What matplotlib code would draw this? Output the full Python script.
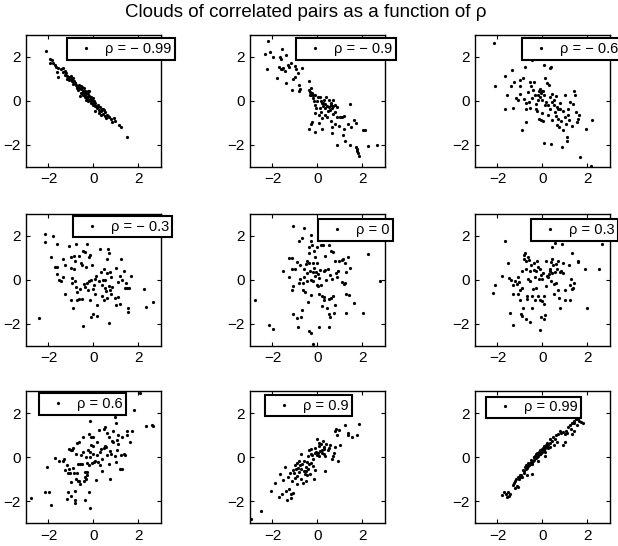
import numpy as np
import matplotlib
matplotlib.use("Agg")
import matplotlib.pyplot as plt

plt.rcParams['font.family'] = ['Liberation Sans', 'DejaVu Sans']

# correlation coefficient of each cloud, row by row
rhos = [-0.99, -0.9, -0.6, -0.3, 0, 0.3, 0.6, 0.9, 0.99]
labels = ['\u03c1 = \u2212 0.99', '\u03c1 = \u2212 0.9', '\u03c1 = \u2212 0.6',
          '\u03c1 = \u2212 0.3', '\u03c1 = 0', '\u03c1 = 0.3',
          '\u03c1 = 0.6', '\u03c1 = 0.9', '\u03c1 = 0.99']

# (x, y) samples of each cloud
pairs_m099 = [
    (-2.11, 2.24), (-1.92, 1.91), (-1.86, 1.83), (-1.93, 1.70), (-1.81, 1.73), (-1.73, 1.61),
    (-1.67, 1.53), (-1.59, 1.48), (-1.61, 1.29), (-1.56, 1.09), (-1.46, 1.42), (-1.34, 1.48),
    (-1.37, 1.30), (-1.28, 1.18), (-1.22, 1.24), (-1.16, 1.12), (-1.13, 1.03), (-1.25, 1.36),
    (-1.07, 1.06), (-1.01, 0.97), (-0.93, 1.03), (-0.96, 0.88), (-0.87, 0.91), (-0.84, 0.79),
    (-0.78, 0.73), (-0.72, 0.64), (-0.66, 0.73), (-0.63, 0.58), (-0.70, 0.50), (-0.60, 0.20),
    (-0.57, 0.52), (-0.51, 0.61), (-0.48, 0.42), (-0.45, 0.33), (-0.39, 0.45), (-0.36, 0.27),
    (-0.33, 0.36), (-0.30, 0.18), (-0.27, 0.12), (-0.24, 0.30), (-0.21, 0.03), (-0.19, 0.21),
    (-0.16, 0.09), (-0.13, -0.03), (-0.10, 0.15), (-0.07, 0.03), (-0.04, -0.09), (-0.01, -0.18),
    (0.02, 0.00), (0.05, -0.24), (0.08, -0.12), (0.11, -0.24), (0.14, -0.33), (0.20, -0.18),
    (0.23, -0.42), (0.26, -0.58), (0.29, -0.30), (0.35, -0.48), (0.38, -0.36), (0.41, -0.61),
    (0.47, -0.42), (0.50, -0.70), (0.53, -0.52), (0.56, -0.79), (0.59, -0.64), (0.64, -0.70),
    (0.70, -0.76), (0.79, -0.82), (0.82, -0.97), (0.91, -0.79), (0.97, -0.91), (1.15, -1.09),
    (1.21, -1.18), (1.49, -1.64), (-0.48, 0.27), (-0.42, 0.58), (-0.24, 0.42), (-0.10, -0.12),
    (-0.04, 0.12), (-0.24, -0.03), (-0.33, 0.03), (-0.39, 0.18), (-0.54, 0.33), (-0.57, 0.67),
    (-0.75, 0.58), (-0.81, 0.82), (-0.90, 0.76), (-0.99, 1.12), (-1.10, 0.94), (-1.19, 1.00),
    (0.08, -0.45), (0.17, -0.30), (0.41, -0.36), (0.32, -0.64), (-0.19, 0.45), (-0.36, 0.33),
]

pairs_m09 = [
    (-2.19, 2.70), (-2.35, 2.14), (-2.11, 2.21), (-1.96, 1.97), (-2.26, 1.44), (-1.58, 2.36),
    (-1.67, 1.97), (-1.62, 1.91), (-1.40, 2.06), (-1.81, 1.03), (-1.70, 1.52), (-1.64, 1.42),
    (-1.52, 1.48), (-1.46, 1.36), (-1.58, 1.45), (-1.31, 1.61), (-1.25, 1.52), (-1.19, 1.70),
    (-1.00, 1.56), (-0.96, 1.42), (-0.69, 1.50), (-0.87, 1.24), (-0.99, 1.09), (-1.10, 0.97),
    (-1.40, 0.80), (-1.13, 0.48), (-0.81, 0.73), (-0.78, 0.55), (-0.84, 0.42), (-0.39, 0.88),
    (-0.36, 0.48), (-0.33, 0.39), (-0.30, 0.58), (-0.24, 0.33), (-0.27, 0.27), (-0.21, 0.12),
    (-0.19, 0.24), (-0.16, 0.00), (-0.10, -0.21), (-0.04, -0.03), (-0.07, -0.33), (-0.13, -0.55),
    (0.02, 0.15), (0.11, 0.18), (0.14, 0.00), (0.20, -0.12), (0.23, -0.24), (0.26, -0.09),
    (0.29, 0.03), (0.32, -0.15), (0.35, -0.33), (0.38, 0.15), (0.41, -0.24), (0.47, -0.45),
    (0.50, 0.03), (0.53, -0.30), (0.56, -0.42), (0.59, -0.09), (0.61, -0.21), (0.64, -0.33),
    (0.67, 0.03), (0.70, -0.24), (0.76, -0.52), (0.79, -0.18), (0.85, -0.30), (0.88, -0.76),
    (1.00, -0.73), (1.09, -0.76), (1.18, -0.70), (1.44, -0.15), (0.44, -0.73), (0.35, -0.64),
    (0.17, -0.52), (0.08, -0.64), (0.05, -1.03), (-0.24, -0.97), (-0.27, -1.06), (-0.39, -1.27),
    (-0.10, -1.42), (0.20, -1.27), (0.59, -0.94), (0.64, -1.21), (0.64, -1.48), (0.76, -1.06),
    (0.97, -1.15), (1.18, -1.27), (1.36, -1.06), (1.62, -0.88), (1.71, -1.00), (1.50, -1.21),
    (2.01, -1.33), (2.13, -1.33), (1.15, -1.55), (1.21, -1.82), (0.88, -2.00), (1.44, -2.00),
    (1.71, -2.12), (1.74, -2.21), (1.77, -2.30), (1.80, -2.39), (1.83, -2.52), (2.24, -2.05),
    (2.66, -2.00), (0.70, -0.61), (-0.10, 0.27), (-0.33, 0.27), (0.19, -0.79), (0.11, -0.33),
]

pairs_m06 = [
    (-2.14, 2.62), (-2.09, 0.68), (-1.67, 1.13), (-1.35, 1.41), (-1.58, 0.27), (-1.66, -0.37),
    (-1.40, 0.68), (-1.32, -0.31), (-1.26, 0.87), (-1.17, 0.10), (-1.08, 0.04), (-0.99, 0.92),
    (-0.99, 0.65), (-1.02, 0.31), (-0.87, 1.04), (-0.78, 1.53), (-0.81, 0.07), (-0.75, -0.39),
    (-0.72, -0.96), (-0.90, -1.33), (-0.66, 0.40), (-0.60, -0.08), (-0.54, 0.86), (-0.48, 1.83),
    (-0.51, 0.65), (-0.48, 0.10), (-0.42, 0.49), (-0.36, 0.83), (-0.34, 0.28), (-0.28, -0.14),
    (-0.25, -0.45), (-0.22, 0.01), (-0.19, 0.28), (-0.16, 0.46), (-0.13, 0.19), (-0.10, 0.52),
    (-0.07, 0.34), (-0.04, 0.46), (-0.01, 0.04), (0.02, 0.43), (0.05, 0.25), (0.08, 1.62),
    (0.11, -0.21), (-0.16, -0.81), (-0.07, -0.87), (0.02, -0.94), (0.08, -1.91), (0.37, -1.97),
    (0.20, 0.80), (0.29, 0.69), (0.32, 1.50), (0.38, 1.53), (0.17, -0.08), (0.23, -0.21),
    (0.32, 0.19), (0.35, -0.39), (0.41, -0.08), (0.44, 0.31), (0.50, -0.21), (0.53, 0.04),
    (0.56, -0.51), (0.59, -0.69), (0.62, 0.22), (0.65, -0.30), (0.68, -0.81), (0.71, -0.36),
    (0.74, -1.18), (0.77, -0.11), (0.83, -0.94), (0.86, -2.09), (0.89, -0.45), (0.92, -1.33),
    (0.98, -0.72), (1.01, 0.28), (1.04, -1.06), (1.07, -1.63), (1.10, -1.81), (1.12, -0.39),
    (1.15, -0.63), (1.18, -0.87), (1.24, -0.05), (1.30, -1.15), (1.36, -0.17), (1.39, 0.46),
    (1.45, 0.28), (1.48, -0.51), (1.54, -0.96), (1.60, -0.81), (1.63, -0.66), (1.66, -2.55),
    (1.93, -1.27), (2.19, -0.87), (2.14, -2.95), (0.80, -0.39), (0.65, -1.12), (0.44, -0.87),
    (0.26, -0.66), (-0.04, -0.54), (-0.31, -0.36), (-0.57, -0.33), (-0.75, -0.11), (0.11, 1.01),
]

pairs_m03 = [
    (-2.14, 2.07), (-2.14, 1.71), (-1.81, 1.98), (-1.63, 1.62), (-2.41, -1.74), (-1.90, 1.02),
    (-1.69, 0.56), (-1.60, 0.59), (-1.63, 0.26), (-1.55, -0.01), (-1.46, -0.07), (-1.37, 0.14),
    (-1.34, 0.92), (-1.25, 0.68), (-1.25, -0.67), (-1.07, 1.53), (-1.01, 1.02), (-0.98, 0.53),
    (-0.95, 0.08), (-0.95, -0.16), (-0.98, -0.94), (-0.92, -1.27), (-0.86, 1.08), (-0.86, 0.47),
    (-0.80, 0.83), (-0.80, -0.07), (-0.77, 1.62), (-0.77, -0.34), (-0.74, -0.94), (-0.71, -0.58),
    (-0.65, -0.88), (-0.62, 1.08), (-0.59, -0.43), (-0.56, 0.77), (-0.53, -0.88), (-0.51, 0.68),
    (-0.48, 1.29), (-0.48, -2.11), (-0.42, -0.19), (-0.39, 1.26), (-0.36, -0.34), (-0.33, 0.59),
    (-0.30, 1.62), (-0.27, -0.13), (-0.24, -0.46), (-0.21, -0.07), (-0.18, 1.02), (-0.15, 1.14),
    (-0.15, -0.91), (-0.12, -0.01), (-0.09, -1.69), (-0.06, 0.68), (-0.03, -0.43), (0.00, -1.57),
    (0.03, -0.25), (0.06, 0.02), (0.09, -0.64), (0.12, 0.17), (0.15, -1.15), (0.18, -1.66),
    (0.24, -0.07), (0.30, 1.41), (0.33, 0.35), (0.36, -0.22), (0.39, -0.76), (0.42, -0.01),
    (0.45, 0.50), (0.48, -0.94), (0.51, -0.40), (0.53, -0.01), (0.56, -0.52), (0.59, 0.32),
    (0.62, 0.92), (0.62, -0.82), (0.65, 1.41), (0.68, -0.31), (0.71, 1.20), (0.71, -1.99),
    (0.74, 0.35), (0.74, -0.49), (0.77, 0.11), (0.80, -0.64), (0.83, -0.34), (0.98, -0.82),
    (1.01, 0.53), (1.01, -1.15), (1.07, -0.79), (1.10, -0.10), (1.16, 0.17), (1.19, -1.12),
    (1.22, 0.92), (1.28, -0.01), (1.34, 0.41), (1.40, -0.37), (1.46, -0.16), (1.49, -0.37),
    (1.55, -1.48), (1.55, -1.30), (1.58, -0.37), (1.69, 0.17), (2.26, -0.41), (2.35, -1.23),
    (2.64, -1.03),
]

pairs_0 = [
    (-2.76, -0.91), (-2.14, -2.07), (-1.99, -2.26), (-1.55, 0.38), (-1.28, 0.98), (-1.25, 0.14),
    (-1.13, 0.98), (-1.13, 0.47), (-1.10, -0.28), (-1.13, -0.49), (-1.10, -1.57), (-1.07, 2.43),
    (-1.01, 0.50), (-0.92, 0.80), (-0.89, -1.75), (-0.86, -2.17), (-0.83, -0.13), (-0.80, 1.77),
    (-0.77, 0.05), (-0.77, 0.68), (-0.71, -1.69), (-0.68, 1.89), (-0.68, -1.36), (-0.65, -0.13),
    (-0.65, -0.49), (-0.62, 0.47), (-0.59, 2.34), (-0.59, 0.14), (-0.56, -0.55), (-0.51, 0.71),
    (-0.48, 0.29), (-0.45, -0.07), (-0.42, -1.00), (-0.39, 1.47), (-0.39, 0.77), (-0.36, 1.23),
    (-0.36, -2.35), (-0.33, 0.41), (-0.30, -0.01), (-0.30, 2.01), (-0.30, -2.41), (-0.27, -0.70),
    (-0.27, 1.77), (-0.24, 1.59), (-0.21, 0.35), (-0.21, -2.93), (-0.18, 0.77), (-0.18, -0.04),
    (-0.15, 1.29), (-0.15, 0.53), (-0.12, 0.17), (-0.09, 1.02), (-0.06, 0.35), (-0.03, -0.22),
    (-0.03, 0.74), (0.00, 1.47), (0.03, -0.31), (0.03, 0.26), (0.09, -2.14), (0.09, 0.08),
    (0.12, 0.44), (0.15, 1.59), (0.15, -0.22), (0.18, -0.73), (0.21, -1.21), (0.24, 1.59),
    (0.27, 0.41), (0.30, -0.94), (0.33, 1.07), (0.33, 0.44), (0.36, -0.01), (0.42, -1.27),
    (0.45, 0.47), (0.51, 1.59), (0.51, -0.88), (0.53, -1.54), (0.53, -2.17), (0.56, -1.69),
    (0.56, 0.20), (0.59, 1.29), (0.62, -0.82), (0.65, 0.02), (0.71, -0.76), (0.71, 1.26),
    (0.74, -1.51), (0.77, -1.15), (0.80, 0.83), (0.83, 0.29), (0.86, 0.14), (0.92, 0.38),
    (0.95, 0.83), (1.07, 0.89), (1.10, -0.10), (1.13, 0.92), (1.16, -0.19), (1.22, -0.16),
    (1.22, 0.77), (1.25, 0.35), (1.25, -0.67), (1.28, -1.51), (1.34, 1.02), (1.40, -0.70),
    (1.46, 0.53), (1.63, -1.06), (2.02, -1.51), (2.23, 1.17), (2.79, -0.04), (-0.45, 0.83),
    (0.09, -0.64), (0.27, -0.79),
]

pairs_03 = [
    (-2.21, -0.61), (-2.12, -0.22), (-1.82, 0.17), (-1.67, 1.77), (-1.55, 0.77), (-1.47, 0.08),
    (-1.44, -1.51), (-1.38, -0.01), (-1.32, -2.08), (-1.29, -0.25), (-1.29, -0.67), (-1.23, -0.07),
    (-1.14, -0.19), (-1.11, -0.64), (-1.08, 0.11), (-1.05, -0.10), (-1.02, -0.49), (-0.99, -0.91),
    (-0.96, -1.57), (-0.93, -1.66), (-0.93, -0.37), (-0.90, 0.41), (-0.87, -1.27), (-0.84, 0.92),
    (-0.81, 1.14), (-0.78, 1.23), (-0.75, 0.83), (-0.72, 0.47), (-0.72, -1.81), (-0.69, -0.76),
    (-0.69, -0.88), (-0.66, 1.02), (-0.63, 0.05), (-0.60, 0.89), (-0.57, -0.04), (-0.54, 0.41),
    (-0.54, -1.93), (-0.51, 0.65), (-0.48, -0.73), (-0.45, -1.27), (-0.42, -0.43), (-0.39, 0.77),
    (-0.36, 0.44), (-0.34, 0.11), (-0.34, -0.94), (-0.31, -0.37), (-0.28, 0.38), (-0.25, 0.86),
    (-0.22, -0.73), (-0.19, 0.59), (-0.16, 0.02), (-0.13, -0.94), (-0.13, 0.47), (-0.10, -2.29),
    (-0.07, 0.20), (-0.07, -1.69), (-0.04, -0.97), (-0.01, 0.02), (0.02, 0.29), (0.05, -1.78),
    (0.05, -1.09), (0.08, -0.76), (0.11, -1.60), (0.14, 0.83), (0.17, -0.28), (0.20, 0.17),
    (0.26, 0.11), (0.29, 0.26), (0.32, 0.41), (0.35, 0.50), (0.38, 0.80), (0.38, -0.04),
    (0.41, 0.32), (0.41, 0.92), (0.44, 1.50), (0.47, 0.68), (0.50, -0.19), (0.53, -0.64),
    (0.56, 1.68), (0.56, 0.35), (0.59, 0.71), (0.62, -0.13), (0.65, 0.47), (0.68, 0.86),
    (0.71, -0.49), (0.74, -0.85), (0.77, 0.35), (0.80, -1.30), (0.83, 0.38), (0.86, 1.62),
    (0.89, 0.74), (0.92, 0.32), (0.98, -0.91), (1.01, -0.46), (1.18, 0.65), (1.21, -0.25),
    (1.24, -0.91), (1.27, 0.02), (1.30, -0.43), (1.33, 1.23), (1.36, -0.37), (1.39, -0.16),
    (1.57, 0.80), (1.60, 0.86), (1.87, 0.47), (1.96, -1.27), (2.50, 0.50), (2.64, 1.62),
]

pairs_06 = [
    (-2.79, -1.86), (-2.14, -1.57), (-1.96, -1.57), (-2.08, -0.43), (-1.87, -2.17), (-1.72, -0.04),
    (-1.55, -0.16), (-1.37, -0.19), (-1.31, -0.07), (-1.25, -0.58), (-1.19, -0.37), (-1.13, -1.57),
    (-1.13, -0.70), (-1.16, -1.90), (-1.10, 0.37), (-1.07, -0.52), (-1.04, -0.70), (-1.01, -1.12),
    (-1.01, 0.31), (-0.98, -1.78), (-0.95, 0.34), (-0.92, -0.49), (-0.89, 0.40), (-0.86, -0.70),
    (-0.83, -2.08), (-0.80, -1.51), (-0.80, -1.96), (-0.77, 0.13), (-0.77, -0.97), (-0.74, -0.70),
    (-0.71, 0.64), (-0.68, -0.31), (-0.68, -1.09), (-0.65, 0.70), (-0.62, -1.06), (-0.59, -0.31),
    (-0.59, -1.21), (-0.56, 0.10), (-0.53, -0.31), (-0.48, 0.94), (-0.45, 0.22), (-0.42, -1.06),
    (-0.39, -0.67), (-0.39, -1.93), (-0.36, -0.91), (-0.33, -0.01), (-0.33, -1.00), (-0.30, -0.82),
    (-0.30, -0.28), (-0.27, -0.67), (-0.24, 0.34), (-0.21, -0.37), (-0.18, 1.06), (-0.18, -1.60),
    (-0.15, 1.66), (-0.15, -2.32), (-0.15, -0.01), (-0.12, 0.91), (-0.09, 0.58), (-0.06, -0.28),
    (-0.03, 0.16), (-0.03, 0.91), (0.00, 0.52), (0.03, -0.22), (0.09, -0.16), (0.12, -1.03),
    (0.15, 0.70), (0.18, 0.10), (0.21, -0.22), (0.24, 1.24), (0.27, -0.34), (0.30, 0.25),
    (0.33, 0.37), (0.36, -0.10), (0.39, -0.64), (0.45, 1.27), (0.48, 0.40), (0.51, 0.52),
    (0.53, 1.39), (0.56, 0.46), (0.59, 1.12), (0.62, 0.10), (0.68, -0.31), (0.71, 0.91),
    (0.74, 0.28), (0.74, -1.00), (0.77, 0.16), (0.83, 0.73), (0.86, 1.18), (0.89, 0.70),
    (0.95, 1.84), (0.98, 0.04), (1.01, -0.22), (1.01, 1.57), (1.04, 0.34), (1.04, 0.79),
    (1.07, 0.61), (1.10, 1.00), (1.19, -0.52), (1.22, 0.10), (1.25, -0.52), (1.28, 0.91),
    (1.34, 0.16), (1.40, 0.10), (1.49, 1.18), (1.49, 1.03), (1.63, 0.70), (1.72, 1.18),
    (1.81, 2.17), (2.05, 2.92), (2.32, 1.42), (2.59, 1.48), (2.64, 1.42), (-0.15, 0.25),
]

pairs_09 = [
    (-2.94, -2.80), (-2.53, -2.44), (-2.05, -1.54), (-1.90, -1.18), (-1.72, -1.81), (-1.66, -0.76),
    (-1.58, -1.66), (-1.52, -1.03), (-1.43, -0.46), (-1.40, -1.54), (-1.37, -1.96), (-1.31, -0.88),
    (-1.25, -1.45), (-1.22, -0.70), (-1.19, -1.84), (-1.16, -1.69), (-1.13, -1.09), (-1.10, -0.58),
    (-1.07, -1.63), (-1.04, -0.73), (-1.01, -0.34), (-0.98, -0.94), (-0.95, -0.55), (-0.92, -0.25),
    (-0.89, -0.85), (-0.89, -1.21), (-0.86, -0.49), (-0.83, -0.19), (-0.80, -0.67), (-0.77, -0.37),
    (-0.74, 0.16), (-0.74, -0.97), (-0.71, -0.55), (-0.68, -0.31), (-0.65, -1.15), (-0.62, -0.64),
    (-0.59, -0.16), (-0.56, -0.76), (-0.53, -0.43), (-0.51, -1.06), (-0.51, -0.61), (-0.48, -0.22),
    (-0.45, -0.82), (-0.42, 0.04), (-0.42, -0.55), (-0.39, -0.31), (-0.36, 0.31), (-0.33, -0.76),
    (-0.30, 0.16), (-0.30, -0.25), (-0.27, 0.37), (-0.24, 0.10), (-0.21, -0.10), (-0.18, -0.40),
    (-0.15, -0.97), (-0.12, 0.19), (-0.09, 0.43), (-0.06, 0.25), (-0.03, 0.10), (0.00, 0.82),
    (0.03, 0.19), (0.06, 0.52), (0.09, 0.64), (0.12, 0.28), (0.15, 0.61), (0.18, 0.34),
    (0.21, 0.19), (0.24, 0.73), (0.27, 0.46), (0.27, 0.13), (0.30, 0.37), (0.33, 0.07),
    (0.39, 0.61), (0.45, 0.31), (0.51, 0.43), (0.56, 0.55), (0.65, -0.10), (0.68, 0.07),
    (0.74, 0.19), (0.77, 1.21), (0.80, 0.46), (0.83, 1.30), (0.89, 1.00), (0.92, -0.16),
    (0.95, 1.24), (0.98, 0.58), (1.22, 1.45), (1.34, 1.03), (1.37, 1.12), (1.55, 0.94),
    (1.75, 1.03), (1.84, 1.51), (0.33, -0.64), (-0.12, -0.58), (0.09, 0.04),
]

pairs_099 = [
    (-1.82, -1.72), (-1.70, -1.57), (-1.64, -1.69), (-1.58, -1.81), (-1.53, -1.60), (-1.47, -1.75),
    (-1.44, -1.66), (-1.29, -1.27), (-1.26, -1.18), (-1.23, -1.09), (-1.20, -1.38), (-1.17, -0.97),
    (-1.14, -1.30), (-1.11, -0.91), (-1.05, -0.97), (-1.02, -0.79), (-0.96, -0.82), (-0.93, -0.90),
    (-0.87, -0.58), (-0.84, -0.73), (-0.81, -0.61), (-0.78, -0.46), (-0.75, -0.55), (-0.72, -0.37),
    (-0.69, -0.49), (-0.66, -0.40), (-0.63, -0.28), (-0.60, -0.37), (-0.57, -0.25), (-0.54, -0.31),
    (-0.51, -0.13), (-0.48, -0.22), (-0.45, -0.76), (-0.45, -0.30), (-0.42, -0.19), (-0.39, -0.01),
    (-0.36, -0.13), (-0.34, 0.07), (-0.31, -0.04), (-0.28, 0.13), (-0.25, 0.01), (-0.22, 0.19),
    (-0.19, 0.07), (-0.16, 0.25), (-0.13, 0.13), (-0.10, 0.31), (-0.07, 0.19), (-0.04, 0.37),
    (-0.01, 0.25), (0.02, 0.43), (0.05, 0.34), (0.08, 0.52), (0.11, 0.40), (0.14, 0.58),
    (0.17, 0.46), (0.20, 0.67), (0.23, 0.55), (0.26, 0.40), (0.32, 0.64), (0.35, 0.82),
    (0.41, 0.73), (0.47, 0.94), (0.53, 0.58), (0.56, 0.85), (0.59, 1.00), (0.65, 0.70),
    (0.71, 1.06), (0.77, 1.18), (0.83, 1.12), (0.92, 1.15), (0.98, 1.06), (1.03, 1.18),
    (1.09, 1.10), (1.15, 1.39), (1.21, 1.45), (1.27, 1.30), (1.33, 1.57), (1.39, 1.66),
    (1.42, 1.54), (1.48, 1.72), (1.54, 1.45), (1.60, 1.75), (1.63, 1.63), (1.72, 1.60),
    (1.78, 1.57), (-0.36, 0.01), (-0.10, 0.13), (0.11, 0.25), (0.32, 0.46), (-0.25, 0.19),
    (-0.57, -0.31), (-0.75, -0.46), (-0.99, -0.91), (0.92, 0.58), (0.98, 0.70), (1.40, 1.20),
    (1.30, 1.05), (-0.20, -0.15), (0.10, 0.05), (-1.10, -1.35), (-0.70, -0.80),
]

clouds = [pairs_m099, pairs_m09, pairs_m06, pairs_m03, pairs_0,
          pairs_03, pairs_06, pairs_09, pairs_099]

fig = plt.figure(figsize=(6.18, 5.46), dpi=100)

# axes grid (figure fractions)
col_left = [0.042, 0.4045, 0.7686]
row_bottom = [0.6947, 0.3669, 0.0416]
ax_w, ax_h = 0.2184, 0.2418

# upper-left corner of each legend box (figure fractions)
leg_anchor = [(0.1079, 0.9299), (0.4785, 0.9299), (0.8440, 0.9299),
              (0.1176, 0.6044), (0.5150, 0.5984), (0.8590, 0.5984),
              (0.0626, 0.2797), (0.4288, 0.2766), (0.7864, 0.2734)]

for k, pts in enumerate(clouds):
    r, c = divmod(k, 3)
    ax = fig.add_axes([col_left[c], row_bottom[r], ax_w, ax_h])
    xy = np.array(pts)
    ax.plot(xy[:, 0], xy[:, 1], linestyle='none', marker='o', ms=2.3,
            mew=0, color='black', label=labels[k])
    ax.set_xlim(-3, 3)
    ax.set_ylim(-3, 3)
    ax.set_xticks([-2, 0, 2])
    ax.set_yticks([-2, 0, 2])
    ax.tick_params(direction='in', length=3, width=0.8, top=True, right=True,
                   labelsize=11, pad=4)
    for sp in ax.spines.values():
        sp.set_linewidth(1.0)
    leg = ax.legend(loc='upper left', bbox_to_anchor=leg_anchor[k],
                    bbox_transform=fig.transFigure, fontsize=10.5,
                    frameon=True, fancybox=False, framealpha=1,
                    borderpad=0.25, handlelength=2.1, handletextpad=0.25,
                    borderaxespad=0, numpoints=1, markerscale=1.0)
    leg.get_frame().set_edgecolor('black')
    leg.get_frame().set_linewidth(1.5)

fig.text(0.495, 0.978, 'Clouds of correlated pairs as a function of \u03c1',
         ha='center', va='center', fontsize=13.5)

fig.savefig('out.png', dpi=100)
